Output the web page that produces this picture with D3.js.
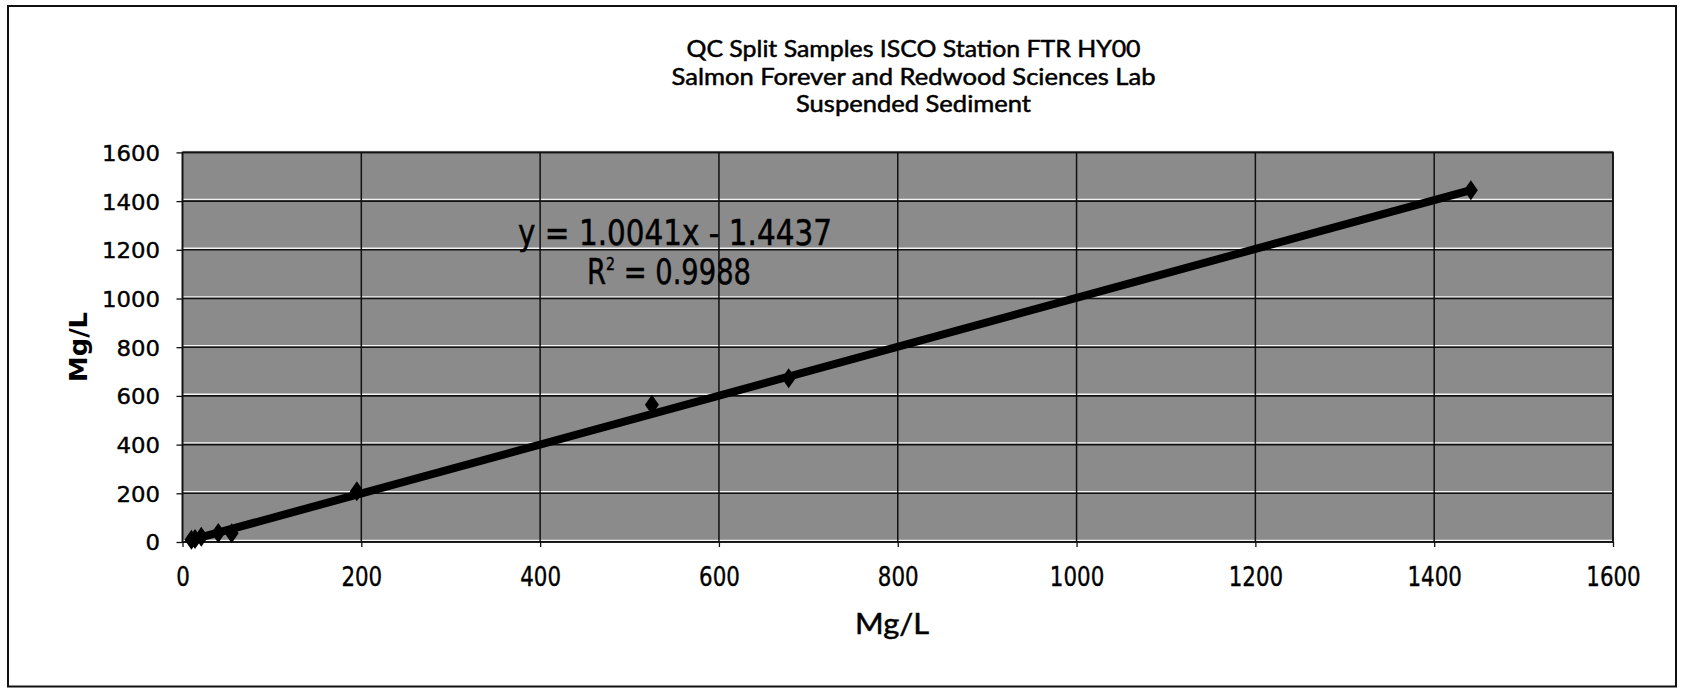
<!DOCTYPE html>
<html><head><meta charset="utf-8">
<script src="https://cdn.jsdelivr.net/npm/d3@7/dist/d3.min.js"></script>
<style>html,body{margin:0;padding:0;background:#fff;}svg{display:block;}</style>
</head><body>
<svg id="chart" width="1683" height="688"></svg>
<script>
// ---- data ----
const titleLines = ["QC Split Samples ISCO Station FTR HY00", "Salmon Forever and Redwood Sciences Lab", "Suspended Sediment"];
const xValues = [10, 14, 21, 40, 55, 195, 525, 678, 1441];   // Mg/L (lab A)
const yValues = [9, 12, 22, 37, 36, 208, 564, 672, 1445];    // Mg/L (lab B)
const xTickValues = [0, 200, 400, 600, 800, 1000, 1200, 1400, 1600];
const yTickValues = [0, 200, 400, 600, 800, 1000, 1200, 1400, 1600];
const trendSlope = 1.0041;
const trendIntercept = -1.4437;
const equationLabel = "y = 1.0041x - 1.4437";
const r2Label = "0.9988";
const xAxisTitle = "Mg/L";
const yAxisTitle = "Mg/L";

// ---- layout ----
const svg = d3.select("#chart");
const plot = {left: 182.5, right: 1613, top: 152.4, bottom: 542};
const x = d3.scaleLinear().domain([0, 1600]).range([plot.left, plot.right]);
const y = d3.scaleLinear().domain([0, 1600]).range([plot.bottom, plot.top]);

// outer frame
svg.append("rect").attr("x", 8).attr("y", 6).attr("width", 1668).attr("height", 680.5)
  .attr("fill", "#fff").attr("stroke", "#111").attr("stroke-width", 2);

// title
svg.append("g").selectAll("text").data(titleLines).join("text")
  .attr("x", 913.5).attr("y", (d, i) => 57 + i * 27.5)
  .attr("text-anchor", "middle")
  .attr("font-family", "Lato, 'Open Sans', sans-serif").attr("font-size", 23)
  .attr("stroke", "#000").attr("stroke-width", 0.5)
  .attr("textLength", (d, i) => [454, 484, 235][i]).attr("lengthAdjust", "spacingAndGlyphs")
  .attr("fill", "#000").text(d => d);

// plot background
svg.append("rect").attr("x", plot.left).attr("y", plot.top)
  .attr("width", plot.right - plot.left).attr("height", plot.bottom - plot.top)
  .attr("fill", "#8b8b8b");

// gridlines
const grid = svg.append("g");
grid.selectAll("line.hw").data(yTickValues).join("line").attr("class", "hw")
  .attr("x1", plot.left).attr("x2", plot.right)
  .attr("y1", d => y(d) - 1.6).attr("y2", d => y(d) - 1.6)
  .attr("stroke", "#f2f2f2").attr("stroke-width", 1.4);
grid.selectAll("line.h").data(yTickValues).join("line").attr("class", "h")
  .attr("x1", plot.left).attr("x2", plot.right)
  .attr("y1", d => y(d)).attr("y2", d => y(d))
  .attr("stroke", "#111").attr("stroke-width", 1.6);
grid.selectAll("line.v").data(xTickValues).join("line").attr("class", "v")
  .attr("x1", d => x(d)).attr("x2", d => x(d))
  .attr("y1", plot.top).attr("y2", plot.bottom)
  .attr("stroke", "#111").attr("stroke-width", 1.5);

// plot border
svg.append("rect").attr("x", plot.left).attr("y", plot.top)
  .attr("width", plot.right - plot.left).attr("height", plot.bottom - plot.top)
  .attr("fill", "none").attr("stroke", "#111").attr("stroke-width", 1.6);

// axes
const yAxis = svg.append("g").attr("transform", `translate(${plot.left},0)`)
  .call(d3.axisLeft(y).tickValues(yTickValues).tickSize(6).tickPadding(16.5).tickFormat(d3.format("d")));
yAxis.select(".domain").remove();
yAxis.selectAll("line").attr("stroke", "#111").attr("stroke-width", 1.3);
yAxis.selectAll("text").attr("font-family", "'DejaVu Sans', Verdana, sans-serif").attr("font-size", 22)
  .attr("fill", "#000").attr("stroke", "#000").attr("stroke-width", 0.4).attr("dy", "0.36em")
  .attr("textLength", d => String(d).length * 14.5).attr("lengthAdjust", "spacingAndGlyphs");

const xAxis = svg.append("g").attr("transform", `translate(0,${plot.bottom})`)
  .call(d3.axisBottom(x).tickValues(xTickValues).tickSize(5).tickFormat(d3.format("d")));
xAxis.select(".domain").remove();
xAxis.selectAll("line").attr("stroke", "#111").attr("stroke-width", 1.3);
xAxis.selectAll("text").attr("font-family", "'DejaVu Sans', Verdana, sans-serif").attr("font-size", 27)
  .attr("fill", "#000").attr("stroke", "#000").attr("stroke-width", 0.4).attr("y", 44).attr("dy", 0)
  .attr("textLength", d => String(d).length * 13.6).attr("lengthAdjust", "spacingAndGlyphs");

// axis titles
svg.append("text").attr("x", 892).attr("y", 634).attr("text-anchor", "middle")
  .attr("font-family", "Lato, 'Open Sans', sans-serif").attr("font-size", 28)
  .attr("stroke", "#000").attr("stroke-width", 0.5)
  .attr("textLength", 74).attr("lengthAdjust", "spacingAndGlyphs")
  .attr("fill", "#000").text(xAxisTitle);
svg.append("text").attr("transform", "translate(87,347) rotate(-90)").attr("text-anchor", "middle")
  .attr("font-family", "'DejaVu Sans', Verdana, sans-serif").attr("font-size", 25).attr("font-weight", "bold")
  .attr("textLength", 70).attr("lengthAdjust", "spacingAndGlyphs")
  .attr("fill", "#000").text(yAxisTitle);

// trendline
const xExt = d3.extent(xValues);
svg.append("line")
  .attr("x1", x(xExt[0])).attr("y1", y(trendSlope * xExt[0] + trendIntercept))
  .attr("x2", x(xExt[1])).attr("y2", y(trendSlope * xExt[1] + trendIntercept))
  .attr("stroke", "#000").attr("stroke-width", 8).attr("stroke-linecap", "butt");

// points (diamonds)
const pts = xValues.map((v, i) => [v, yValues[i]]);
svg.append("g").selectAll("path").data(pts).join("path")
  .attr("transform", d => `translate(${x(d[0])},${y(d[1])})`)
  .attr("d", "M0,-10L7,0L0,10L-7,0Z").attr("fill", "#000");

// equation labels
svg.append("text").attr("x", 518).attr("y", 245)
  .attr("font-family", "'DejaVu Sans', Verdana, sans-serif").attr("font-size", 35)
  .attr("stroke", "#000").attr("stroke-width", 0.5)
  .attr("textLength", 314).attr("lengthAdjust", "spacingAndGlyphs")
  .attr("fill", "#000").text(equationLabel);
const r2 = svg.append("text").attr("x", 587).attr("y", 284)
  .attr("font-family", "'DejaVu Sans', Verdana, sans-serif").attr("font-size", 35)
  .attr("stroke", "#000").attr("stroke-width", 0.5)
  .attr("fill", "#000");
r2.append("tspan").text("R");
r2.append("tspan").attr("font-size", 18).attr("dy", -14).text("2");
r2.append("tspan").attr("dy", 14).text(" = " + r2Label);
const r2w = r2.node().getComputedTextLength();
r2.attr("transform", `translate(587,284) scale(${164 / r2w},1) translate(-587,-284)`);
</script>
</body></html>
